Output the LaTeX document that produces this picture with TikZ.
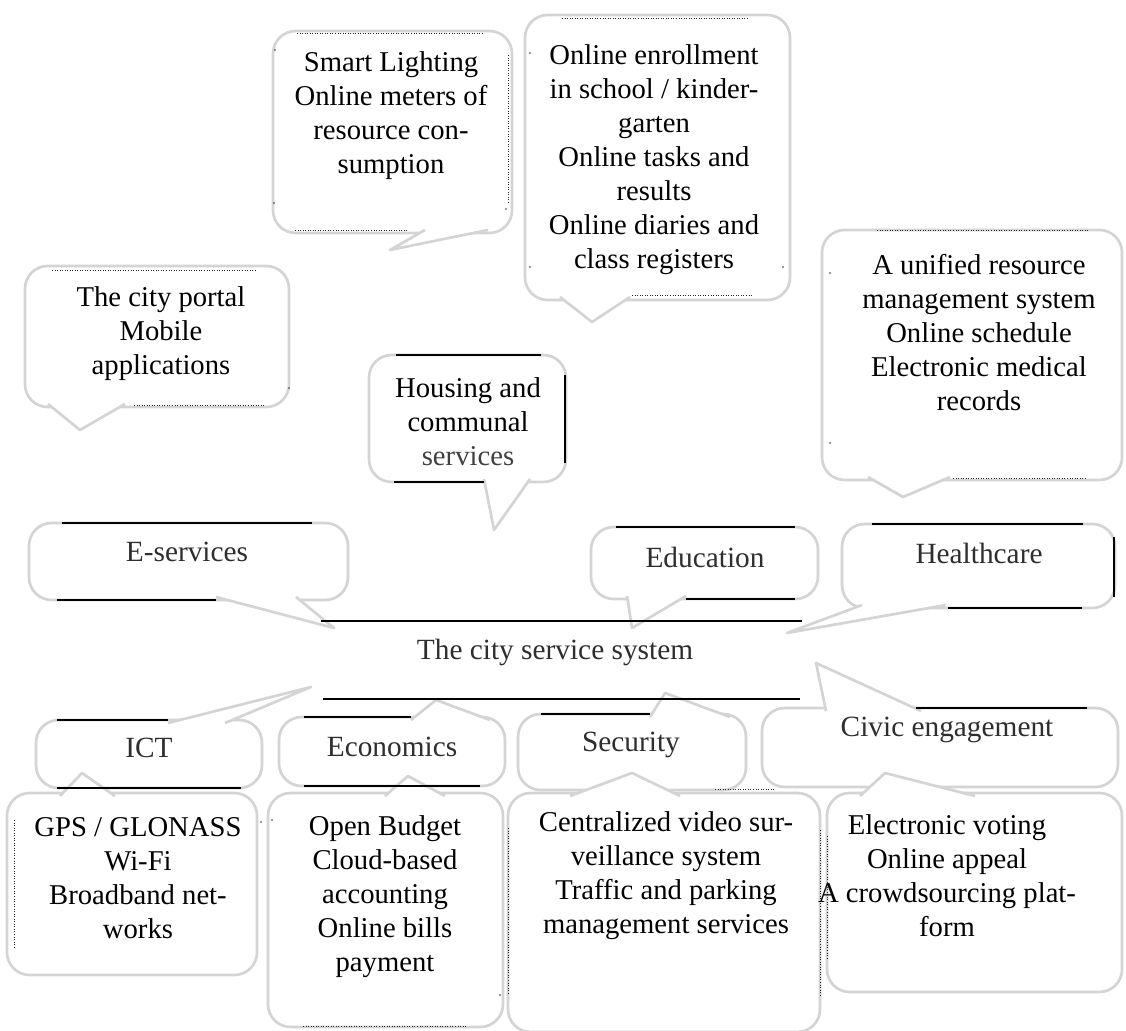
\documentclass[tikz,border=0pt]{standalone}
\usepackage{fontspec}
\setmainfont{Liberation Serif}
\begin{document}
\begin{tikzpicture}[x=0.75pt,y=-0.75pt,
  bub/.style={draw=black!17, line width=2pt, rounded corners=17pt},
  tailline/.style={draw=black!17, line width=2pt, line join=round},
  blk/.style={draw=black, line width=0.9pt},
  dotl/.style={draw=black!85, line width=0.55pt, dash pattern=on 0.6pt off 1.3pt},
  dotp/.style={fill=black!80},
  txt/.style={font=\fontsize{21.5}{25.5}\selectfont, align=center, inner sep=0pt, text=black},
  lbl/.style={font=\fontsize{22}{26}\selectfont, align=center, inner sep=0pt, text=black!82}]
\newcommand\bubrect[4]{\draw[bub] (#1,#2) rectangle (#3,#4);}
\newcommand\bubtail[3]{\fill[white] #1 -- #2 -- #3 -- cycle; \draw[tailline] #1 -- #2 -- #3;}
\useasboundingbox (0,0) rectangle (1126,1030);
\fill[white] (0,0) rectangle (1126,1030);

% bubble bodies
\bubrect{273}{31}{512}{233}
\bubrect{525}{15}{790}{300}
\bubrect{25}{266}{289}{407}
\bubrect{822}{230}{1122}{480}
\bubrect{369}{355}{566}{482}
\bubrect{29}{523}{348}{600}
\bubrect{591}{527}{818}{599}
\bubrect{842}{524}{1115}{608}
\bubrect{36}{720}{262}{788}
\bubrect{279}{717}{505}{786}
\bubrect{518}{714}{746}{790}
\bubrect{762}{708}{1118}{787}
\bubrect{7}{793}{257}{975}
\bubrect{268}{793}{503}{1027}
\bubrect{508}{793}{820}{1032}
\bubrect{827}{793}{1122}{992}

% bubble tails
\bubtail{(425,230)}{(390,250)}{(488,230)}
\bubtail{(560,297)}{(592,322)}{(630,297)}
\bubtail{(48,404)}{(80,430)}{(125,404)}
\bubtail{(868,477)}{(903,497)}{(950,477)}
\bubtail{(484,479)}{(494,530)}{(530,479)}
\bubtail{(216,597)}{(334,628)}{(296,597)}
\bubtail{(627,596)}{(632,628)}{(686,596)}
\bubtail{(862,605)}{(787,633)}{(946,605)}
\bubtail{(168,723)}{(311,687)}{(225,723)}
\bubtail{(411,720)}{(436,700)}{(490,720)}
\bubtail{(650,717)}{(665,693)}{(730,717)}
\bubtail{(826,711)}{(816,663)}{(921,711)}
\bubtail{(60,796)}{(82,773)}{(115,796)}
\bubtail{(385,796)}{(408,776)}{(445,796)}
\bubtail{(570,796)}{(632,773)}{(680,796)}
\bubtail{(860,796)}{(885,773)}{(975,796)}

% solid black edge fragments
\draw[blk] (396,355) -- (541,355);
\draw[blk] (565,375) -- (565,463);
\draw[blk] (394,482) -- (484,482);
\draw[blk] (62,523) -- (312,523);
\draw[blk] (57,600) -- (216,600);
\draw[blk] (321,621) -- (802,621);
\draw[blk] (323,699) -- (800,699);
\draw[blk] (616,527) -- (795,527);
\draw[blk] (686,599) -- (795,599);
\draw[blk] (872,524) -- (1083,524);
\draw[blk] (1114,537) -- (1114,597);
\draw[blk] (948,608) -- (1082,608);
\draw[blk] (57,720) -- (168,720);
\draw[blk] (57,788) -- (241,788);
\draw[blk] (304,717) -- (411,717);
\draw[blk] (304,786) -- (480,786);
\draw[blk] (541,714) -- (650,714);
\draw[blk] (916,708) -- (1087,708);

% dotted edge fragments
\draw[dotl] (297,33) -- (483,33);
\draw[dotl] (508,55) -- (508,202);
\draw[dotl] (295,230) -- (407,230);
\draw[dotl] (562,18) -- (748,18);
\draw[dotl] (632,295) -- (752,295);
\draw[dotl] (52,270) -- (257,270);
\draw[dotl] (134,405) -- (264,405);
\draw[dotl] (877,230) -- (1088,230);
\draw[dotl] (953,478) -- (1085,478);
\draw[dotl] (14,820) -- (14,947);
\draw[dotl] (303,1026) -- (467,1026);
\draw[dotl] (508,828) -- (508,993);
\draw[dotl] (820,830) -- (820,995);
\draw[dotl] (827,836) -- (827,958);
\draw[dotl] (715,789) -- (775,789);
\foreach \p in {(275,50),(274,203),(506,209),(530,53),(530,267),(783,267),(289,388),(830,273),(830,443),(261,822),(272,820),(500,995)}
  \fill[dotp] \p circle (0.6pt);

% texts
\node[txt] (smart) at (391,116) {Smart Lighting\\Online meters of\\resource con-\\sumption};
\node[txt] (enroll) at (654,160) {Online enrollment\\in school / kinder-\\garten\\Online tasks and\\results\\Online diaries and\\class registers};
\node[txt] (portal) at (161,334) {The city portal\\Mobile\\applications};
\node[txt] (unified) at (979,333) {A unified resource\\management system\\Online schedule\\Electronic medical\\records};
\node[txt] (housing) at (468,422) {Housing and\\communal\\{\color{black!75}services}};
\node[lbl] (eserv) at (187,552) {E-services};
\node[lbl] (edu) at (705,557) {Education};
\node[lbl] (health) at (979,553) {Healthcare};
\node[lbl] (city) at (555,652) {The city service system};
\node[lbl] (ict) at (149,748) {ICT};
\node[lbl] (econ) at (392,747) {Economics};
\node[lbl] (secur) at (631,745) {Security};
\node[lbl] (civic) at (947,730) {Civic engagement};
\node[txt] (gps) at (138,878) {GPS / GLONASS\\Wi-Fi\\Broadband net-\\works};
\node[txt] (budget) at (385,897) {Open Budget\\Cloud-based\\accounting\\Online bills\\payment};
\node[txt] (central) at (666,876) {Centralized video sur-\\veillance system\\Traffic and parking\\management services};
\node[txt] (voting) at (947,876) {Electronic voting\\Online appeal\\A crowdsourcing plat-\\form};
\end{tikzpicture}
\end{document}
